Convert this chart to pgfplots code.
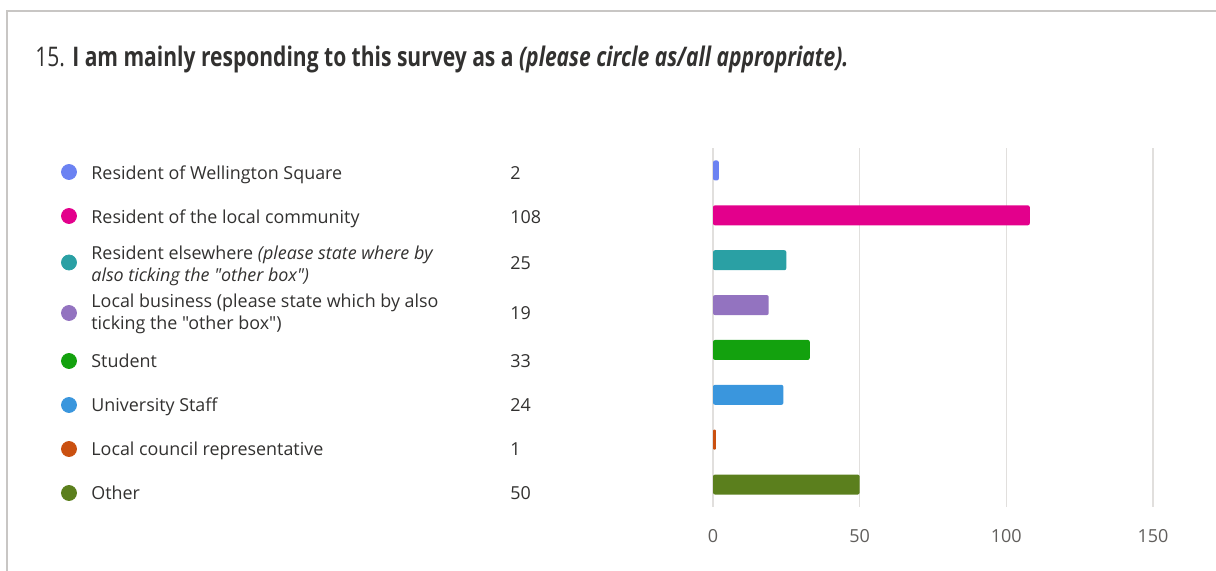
\documentclass[border=0pt]{standalone}
\usepackage{fontspec}
\setmainfont{Open Sans}[Ligatures=TeXOff]
\usepackage{pgfplots}
\pgfplotsset{compat=1.18}
\definecolor{c1}{HTML}{6B82F2}
\definecolor{c2}{HTML}{E3008C}
\definecolor{c3}{HTML}{2AA0A4}
\definecolor{c4}{HTML}{9373C0}
\definecolor{c5}{HTML}{13A10E}
\definecolor{c6}{HTML}{3A96DD}
\definecolor{c7}{HTML}{CA5010}
\definecolor{c8}{HTML}{5B7F1D}
\definecolor{txt}{HTML}{323130}
\definecolor{tickc}{HTML}{605E5C}
\definecolor{gridc}{HTML}{E1DFDD}
\definecolor{framec}{HTML}{C8C6C4}
\newcommand{\lf}{\fontsize{8.95pt}{11pt}\selectfont}
\newcommand{\q}{\symbol{34}}
\begin{document}
\begin{tikzpicture}
\useasboundingbox (0,0) rectangle (608pt,285.5pt);
% background axis in pixel units for the title and the list of categories
\begin{axis}[name=bg, at={(0,0)}, anchor=south west,
  width=608pt, height=285.5pt, scale only axis,
  xmin=0, xmax=1216, ymin=0, ymax=571, y dir=reverse,
  hide axis, clip=false]
\draw[framec, line width=1pt] (axis cs:7,580) -- (axis cs:7,11.5) -- (axis cs:1225,11.5);
\node[anchor=base west, inner sep=0, text=txt] at (axis cs:35,67)
  {\resizebox{406.5pt}{\height}{\fontsize{13.5pt}{16pt}\selectfont 15. \textbf{I am mainly responding to this survey as a} \textbf{\textit{(please circle as/all appropriate).}}}};
\addplot[only marks, mark=*, mark size=3.75pt, color=c1] coordinates {(69,172)};
\addplot[only marks, mark=*, mark size=3.75pt, color=c2] coordinates {(69,216)};
\addplot[only marks, mark=*, mark size=3.75pt, color=c3] coordinates {(69,262.5)};
\addplot[only marks, mark=*, mark size=3.75pt, color=c4] coordinates {(69,313)};
\addplot[only marks, mark=*, mark size=3.75pt, color=c5] coordinates {(69,361)};
\addplot[only marks, mark=*, mark size=3.75pt, color=c6] coordinates {(69,405)};
\addplot[only marks, mark=*, mark size=3.75pt, color=c7] coordinates {(69,449)};
\addplot[only marks, mark=*, mark size=3.75pt, color=c8] coordinates {(69,493)};
\begin{scope}[every node/.style={anchor=base west, inner sep=0, text=txt, font=\lf}]
\node at (axis cs:91,179.3) {Resident of Wellington Square};
\node at (axis cs:91,223.3) {Resident of the local community};
\node at (axis cs:91,259.3) {Resident elsewhere \textit{(please state where by}};
\node at (axis cs:91,281.7) {\textit{also ticking the \q other box\q)}};
\node at (axis cs:91,307.3) {Local business (please state which by also};
\node at (axis cs:91,330) {ticking the \q other box\q)};
\node at (axis cs:91,367.3) {Student};
\node at (axis cs:91,411.7) {University Staff};
\node at (axis cs:91,456) {Local council representative};
\node at (axis cs:91,500) {Other};
\node at (axis cs:510,179.3) {2};
\node at (axis cs:510,223.3) {108};
\node at (axis cs:510,270) {25};
\node at (axis cs:510,320) {19};
\node at (axis cs:510,367.3) {33};
\node at (axis cs:510,411.7) {24};
\node at (axis cs:510,456) {1};
\node at (axis cs:510,500) {50};
\end{scope}
\end{axis}
% bar chart
\begin{axis}[at={(356.5pt,32pt)}, anchor=south west,
  width=220pt, height=179.5pt, scale only axis,
  xmin=0, xmax=150, ymin=-0.5, ymax=7.5, y dir=reverse,
  axis line style={draw=none}, ytick=\empty,
  xtick={0,50,100,150}, xmajorgrids,
  major grid style={gridc, line width=0.75pt},
  major tick length=0pt,
  xticklabel style={font=\fontsize{9pt}{10pt}\selectfont, text=tickc, yshift=-7.5pt},
  /pgf/number format/assume math mode=true,
  xbar, bar width=10pt]
\addplot[fill=c1, draw=none, bar shift=0pt, rounded corners=1pt] coordinates {(2,0)};
\addplot[fill=c2, draw=none, bar shift=0pt, rounded corners=1pt] coordinates {(108,1)};
\addplot[fill=c3, draw=none, bar shift=0pt, rounded corners=1pt] coordinates {(25,2)};
\addplot[fill=c4, draw=none, bar shift=0pt, rounded corners=1pt] coordinates {(19,3)};
\addplot[fill=c5, draw=none, bar shift=0pt, rounded corners=1pt] coordinates {(33,4)};
\addplot[fill=c6, draw=none, bar shift=0pt, rounded corners=1pt] coordinates {(24,5)};
\addplot[fill=c7, draw=none, bar shift=0pt, rounded corners=0.5pt] coordinates {(1,6)};
\addplot[fill=c8, draw=none, bar shift=0pt, rounded corners=1pt] coordinates {(50,7)};
\end{axis}
\end{tikzpicture}
\end{document}
